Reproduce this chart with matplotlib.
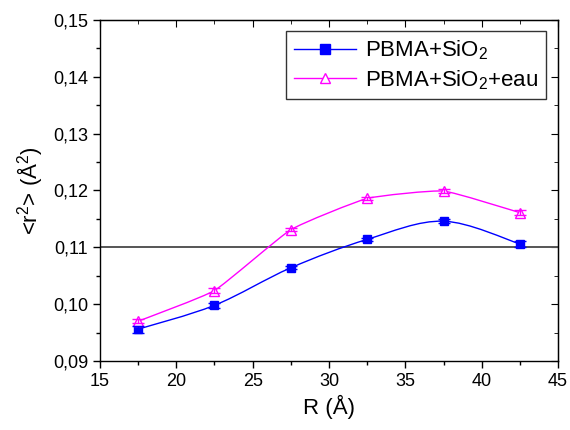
import numpy as np
import matplotlib
matplotlib.use("Agg")
import matplotlib.pyplot as plt
from matplotlib.path import Path
from matplotlib.patches import PathPatch
from matplotlib.lines import Line2D
from matplotlib.ticker import MultipleLocator, FuncFormatter

plt.rcParams['font.family'] = ['Liberation Sans', 'DejaVu Sans']
plt.rcParams['mathtext.fontset'] = 'custom'
plt.rcParams['mathtext.rm'] = 'Liberation Sans'
plt.rcParams['mathtext.it'] = 'Liberation Sans:italic'

R = [17.5, 22.5, 27.5, 32.5, 37.5, 42.5]
r2_dry = [0.0956, 0.0998, 0.1064, 0.1114, 0.1146, 0.1106]
err_dry = [0.0006, 0.0004, 0.0003, 0.0002, 0.0004, 0.0005]
r2_wet = [0.0970, 0.1024, 0.1131, 0.1186, 0.1199, 0.1161]
err_wet = [0.0004, 0.0004, 0.0003, 0.0003, 0.0003, 0.0004]
labels = ['PBMA+SiO$_\\mathregular{2}$', 'PBMA+SiO$_\\mathregular{2}$+eau']
ref_level = 0.11

fig = plt.figure(figsize=(5.7, 4.3), dpi=100)
ax = fig.add_axes([0.1754, 0.1605, 0.8036, 0.793])


def smooth_path(xs, ys, k=6.0):
    xs = np.asarray(xs, float); ys = np.asarray(ys, float)
    pts = np.column_stack([xs, ys])
    n = len(pts)
    verts = [pts[0]]
    codes = [Path.MOVETO]
    for i in range(n - 1):
        p0 = pts[i - 1] if i > 0 else pts[i]
        p1 = pts[i]; p2 = pts[i + 1]
        p3 = pts[i + 2] if i + 2 < n else pts[i + 1]
        c1 = p1 + (p2 - p0) / k
        c2 = p2 - (p3 - p1) / k
        verts += [c1, c2, p2]
        codes += [Path.CURVE4] * 3
    return Path(verts, codes)


ax.axhline(ref_level, color='#555555', lw=1.4, zorder=1)

series = [(r2_dry, err_dry, '#0000ff', 's', '#0000ff', 6.0, 6),
          (r2_wet, err_wet, '#ff00ff', '^', 'white', 14.0, 7)]
for ys, es, col, mk, mfc, k, ms in series:
    ax.add_patch(PathPatch(smooth_path(R, ys, k), fc='none', ec=col, lw=1.0, zorder=2))
    ax.errorbar(R, ys, yerr=es, fmt='none', ecolor=col, elinewidth=1.0,
                capsize=4, capthick=1.0, zorder=5)
    ax.plot(R, ys, ls='none', marker=mk, ms=ms, mfc=mfc, mec=col, mew=1.0, zorder=4)

ax.set_xlim(15, 45)
ax.set_ylim(0.09, 0.15)
ax.xaxis.set_major_locator(MultipleLocator(5))
ax.xaxis.set_minor_locator(MultipleLocator(2.5))
ax.yaxis.set_major_locator(MultipleLocator(0.01))
ax.yaxis.set_minor_locator(MultipleLocator(0.005))
ax.yaxis.set_major_formatter(FuncFormatter(lambda v, p: f"{v:.2f}".replace('.', ',')))

ax.tick_params(which='both', direction='out', top=False, right=False, labelsize=13, width=1.0)
ax.tick_params(which='major', length=5)
ax.tick_params(which='minor', length=3)
for s in ax.spines.values():
    s.set_linewidth(1.0)

axt = ax.secondary_xaxis('top')
axt.xaxis.set_major_locator(MultipleLocator(5))
axt.xaxis.set_minor_locator(MultipleLocator(2.5))
axt.tick_params(which='both', direction='in', labeltop=False)
axt.tick_params(which='major', length=5)
axt.tick_params(which='minor', length=3)
axr = ax.secondary_yaxis('right')
axr.yaxis.set_major_locator(MultipleLocator(0.01))
axr.yaxis.set_minor_locator(MultipleLocator(0.005))
axr.tick_params(which='both', direction='in', labelright=False)
axr.tick_params(which='major', length=5)
axr.tick_params(which='minor', length=3)

ax.set_xlabel('R (Å)', fontsize=16, labelpad=4)
ax.set_ylabel('<r$^\\mathregular{2}$> (Å$^\\mathregular{2}$)', fontsize=16, labelpad=6)

handles = [Line2D([], [], color='#0000ff', lw=1.0, marker='s', ms=7, mfc='#0000ff', mec='#0000ff'),
           Line2D([], [], color='#ff00ff', lw=1.0, marker='^', ms=7, mfc='white', mec='#ff00ff')]
leg = ax.legend(handles, labels, loc='upper right', bbox_to_anchor=(0.9975, 1.0),
                fontsize=16, frameon=True, fancybox=False, edgecolor='black',
                handlelength=2.8, borderpad=0.35, labelspacing=0.25, handletextpad=0.4,
                borderaxespad=0.5)
leg.get_frame().set_linewidth(1.0)

fig.savefig('out.png', dpi=100)
